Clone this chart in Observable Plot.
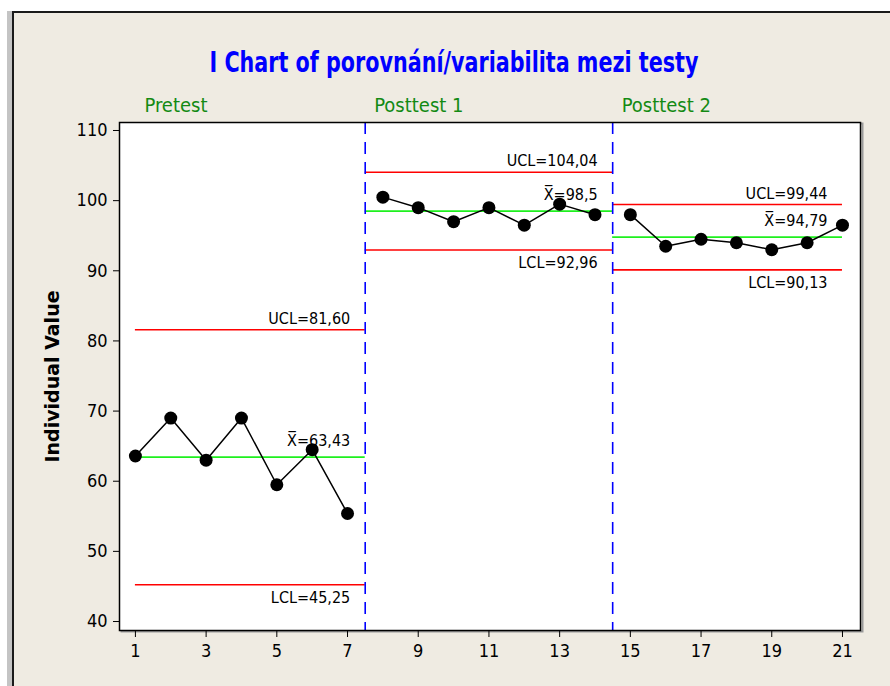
<!DOCTYPE html>
<html>
<head>
<meta charset="utf-8">
<script src="https://cdn.jsdelivr.net/npm/d3@7"></script>
<script src="https://cdn.jsdelivr.net/npm/@observablehq/plot@0.6"></script>
<style>
  html, body { margin: 0; padding: 0; }
  body { width: 890px; height: 686px; background: #EFEBE2; position: relative; overflow: hidden;
         font-family: "DejaVu Sans Condensed", "Liberation Sans", sans-serif; }
  #topstrip { position: absolute; left: 0; top: 0; width: 890px; height: 11px; background: #fff; }
  #leftstrip { position: absolute; left: 0; top: 0; width: 7px; height: 686px; background: #fff; }
  #graybar { position: absolute; left: 7px; top: 11px; width: 5px; height: 675px; background: #C4C4C4; }
  #topline { position: absolute; left: 12px; top: 11px; width: 878px; height: 2px; background: #1a1a1a; }
  #leftline { position: absolute; left: 12px; top: 11px; width: 2px; height: 675px; background: #1a1a1a; }
  #title { position: absolute; left: 0; width: 908px; top: 44px; text-align: center;
           color: #0000FF; font-weight: bold; font-size: 23px; line-height: 36px;
           transform: scaleY(1.25); transform-origin: 50% 50%;
           font-family: "DejaVu Sans Condensed", sans-serif; }
  #chart { position: absolute; left: 0; top: 0; }
  #chart svg { overflow: visible; }
</style>
</head>
<body>
<div id="topstrip"></div>
<div id="leftstrip"></div>
<div id="graybar"></div>
<div id="topline"></div>
<div id="leftline"></div>
<div id="title">I Chart of porovnání/variabilita mezi testy</div>
<div id="chart"></div>
<script>
// ---- data ----
const observations = [1, 2, 3, 4, 5, 6, 7, 8, 9, 10, 11, 12, 13, 14, 15, 16, 17, 18, 19, 20, 21];
const values = [63.6, 69, 63, 69, 59.5, 64.5, 55.4,
                100.5, 99, 97, 99, 96.5, 99.5, 98,
                98, 93.5, 94.5, 94, 93, 94, 96.5];
const stageOf = ["Pretest","Pretest","Pretest","Pretest","Pretest","Pretest","Pretest",
                 "Posttest 1","Posttest 1","Posttest 1","Posttest 1","Posttest 1","Posttest 1","Posttest 1",
                 "Posttest 2","Posttest 2","Posttest 2","Posttest 2","Posttest 2","Posttest 2","Posttest 2"];
const stageNames = ["Pretest", "Posttest 1", "Posttest 2"];
const stageStart = [1, 7.5, 14.5];
const stageEnd = [7.5, 14.5, 21];
const stageBoundaries = [7.5, 14.5];
const ucl = [81.60, 104.04, 99.44];
const centre = [63.43, 98.5, 94.79];
const lcl = [45.25, 92.96, 90.13];
const uclText = ["UCL=81,60", "UCL=104,04", "UCL=99,44"];
const centreText = ["X\u0305=63,43", "X\u0305=98,5", "X\u0305=94,79"];
const lclText = ["LCL=45,25", "LCL=92,96", "LCL=90,13"];
const xTicks = [1, 3, 5, 7, 9, 11, 13, 15, 17, 19, 21];
const yTicks = [40, 50, 60, 70, 80, 90, 100, 110];
const yLabel = "Individual Value";

// ---- tables ----
const points = observations.map((o, i) => ({x: o, y: values[i], stage: stageOf[i]}));
const stages = stageNames.map((s, i) => ({
  name: s, x1: stageStart[i], x2: stageEnd[i],
  ucl: ucl[i], cl: centre[i], lcl: lcl[i],
  uclText: uclText[i], clText: centreText[i], lclText: lclText[i]
}));

const fontFam = '"DejaVu Sans Condensed", "Liberation Sans", sans-serif';

const chart = Plot.plot({
  width: 890,
  height: 686,
  marginLeft: 119,
  marginRight: 30,
  marginTop: 122,
  marginBottom: 56,
  style: {background: "transparent", fontFamily: fontFam, fontSize: "18px", color: "#000"},
  x: {domain: [0.55, 21.51], ticks: xTicks, tickFormat: d => String(d)},
  y: {domain: [38.72, 111.14], ticks: yTicks},
  marks: [
    Plot.frame({stroke: "#9a9a9a", strokeWidth: 2, dx: 2, dy: 1}),
    Plot.frame({fill: "#fff", stroke: "none"}),
    Plot.ruleY(stages, {y: "ucl", x1: "x1", x2: "x2", stroke: "#FF0000", strokeWidth: 1.6}),
    Plot.ruleY(stages, {y: "lcl", x1: "x1", x2: "x2", stroke: "#FF0000", strokeWidth: 1.6}),
    Plot.ruleY(stages, {y: "cl", x1: "x1", x2: "x2", stroke: "#1EF01E", strokeWidth: 1.8}),
    Plot.ruleX(stageBoundaries, {stroke: "#0000FF", strokeWidth: 1.6, strokeDasharray: "12,8"}),
    Plot.line(points, {x: "x", y: "y", z: "stage", stroke: "#000", strokeWidth: 1.5}),
    Plot.dot(points, {x: "x", y: "y", r: 6.5, fill: "#000", stroke: "none"}),
    Plot.text(stages, {x: "x2", y: "ucl", text: "uclText", textAnchor: "end", dx: -15, dy: -11, fontSize: 16}),
    Plot.text(stages, {x: "x2", y: "cl", text: "clText", textAnchor: "end", dx: -15, dy: -16, fontSize: 16}),
    Plot.text(stages, {x: "x2", y: "lcl", text: "lclText", textAnchor: "end", dx: -15, dy: 13, fontSize: 16}),
    Plot.text(stages, {x: "x1", text: "name", frameAnchor: "top", lineAnchor: "middle", textAnchor: "start",
                       dx: 9, dy: -17, fill: "#138A13", fontSize: 20}),
    Plot.text([yLabel], {frameAnchor: "left", textAnchor: "middle", lineAnchor: "middle", dx: -67, rotate: -90,
                         fontWeight: "bold", fontSize: 19, fontFamily: '"DejaVu Sans", sans-serif'}),
    Plot.axisY({ticks: yTicks, tickSize: 6, tickPadding: 6, label: null, fontSize: 18}),
    Plot.axisX({ticks: xTicks, tickSize: 7, tickPadding: 7, label: null, fontSize: 18}),
    Plot.frame({stroke: "#000", strokeWidth: 1.5})
  ]
});
document.getElementById("chart").appendChild(chart);
</script>
</body>
</html>
